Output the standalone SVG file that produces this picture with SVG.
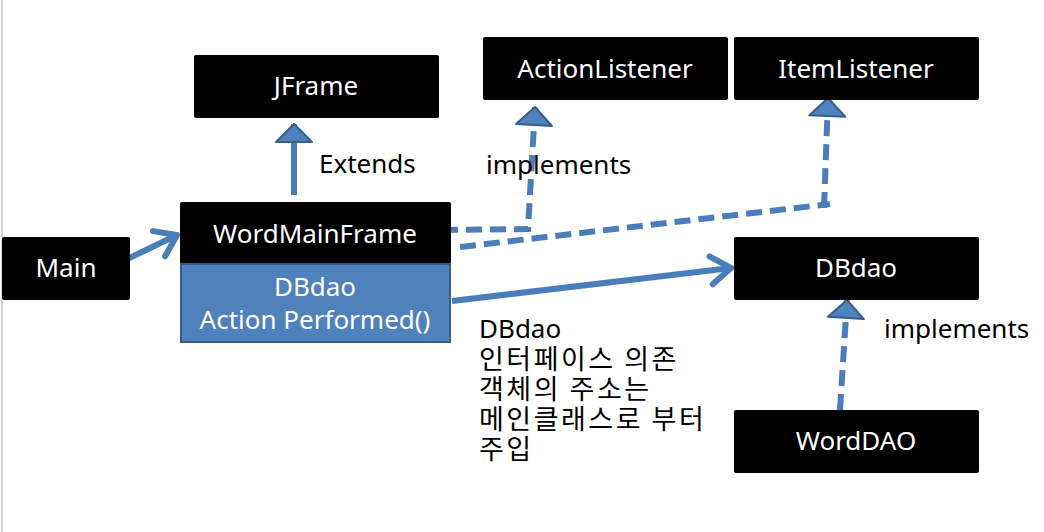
<svg xmlns="http://www.w3.org/2000/svg" width="1044" height="532" viewBox="0 0 1044 532">
<defs>
<style>
.box{fill:#000;}
.sub{fill:#4f81bd;stroke:#385d8a;stroke-width:2;}
.lbl{font-family:"Noto Sans","Noto Sans CJK KR",sans-serif;font-size:26px;fill:#fff;text-anchor:middle;}
.txt{font-family:"Noto Sans","Noto Sans CJK KR",sans-serif;font-size:26px;fill:#000;}
.kr{font-family:"Noto Sans","Noto Sans CJK KR",sans-serif;font-size:26px;fill:#000;}
.kr tspan.h{font-family:"Noto Sans CJK KR",sans-serif;font-size:27px;letter-spacing:2.5px;}
.ln{fill:none;stroke:#4a7ebb;stroke-width:6;}
.dash{stroke-dasharray:16 8;}
</style>
<marker id="tri" markerUnits="userSpaceOnUse" markerWidth="40" markerHeight="44" viewBox="-22 -22 26 44" refX="0" refY="0" orient="auto" overflow="visible">
<path d="M0,0 L-18,-18 L-18,18 z" fill="#4f81bd" stroke="#385d8a" stroke-width="2" stroke-linejoin="round"/>
</marker>
<marker id="open" markerUnits="userSpaceOnUse" markerWidth="40" markerHeight="44" viewBox="-30 -22 34 44" refX="0" refY="0" orient="auto" overflow="visible">
<path d="M-20,-14 L0,0 L-20,14" fill="none" stroke="#4a7ebb" stroke-width="6" stroke-linecap="round" stroke-linejoin="round"/>
</marker>
</defs>
<rect x="0" y="0" width="1044" height="532" fill="#fff"/>
<line x1="2" y1="0" x2="2" y2="532" stroke="#c8c8c8" stroke-width="1.5"/>

<g id="connectors">
<path class="ln" d="M115,265 L177,235" marker-end="url(#open)"/>
<path class="ln" d="M294,195 L294,124" marker-end="url(#tri)"/>
<path class="ln dash" d="M442,230 L528,229 L535,107" marker-end="url(#tri)"/>
<path class="ln dash" d="M460,247 L830,204"/>
<path class="ln dash" d="M824,208 L828,98" marker-end="url(#tri)"/>
<path class="ln" d="M452,301 L731,268" marker-end="url(#open)"/>
<path class="ln dash" d="M840,410 L847,300" marker-end="url(#tri)"/>
</g>

<g id="JFrame"><rect class="box" x="194" y="55" width="245" height="63" rx="2"/><text class="lbl" x="316" y="95">JFrame</text></g>
<g id="ActionListener"><rect class="box" x="483" y="37" width="245" height="63" rx="2"/><text class="lbl" x="605" y="78">ActionListener</text></g>
<g id="ItemListener"><rect class="box" x="734" y="37" width="245" height="63" rx="2"/><text class="lbl" x="856" y="78">ItemListener</text></g>
<g id="Main"><rect class="box" x="2" y="237" width="128" height="63" rx="2"/><text class="lbl" x="66" y="277">Main</text></g>
<g id="WordMainFrame"><rect class="box" x="180" y="202" width="271" height="62" rx="2"/><text class="lbl" x="315" y="243">WordMainFrame</text>
<rect class="sub" x="181" y="264" width="269" height="78"/><text class="lbl" x="315" y="296">DBdao</text><text class="lbl" x="315" y="329">Action Performed()</text></g>
<g id="DBdao"><rect class="box" x="734" y="237" width="245" height="63" rx="2"/><text class="lbl" x="856" y="277">DBdao</text></g>
<g id="WordDAO"><rect class="box" x="734" y="410" width="245" height="63" rx="2"/><text class="lbl" x="856" y="450">WordDAO</text></g>

<g id="labels">
<text class="txt" x="319" y="173">Extends</text>
<text class="txt" x="486" y="174">implements</text>
<text class="txt" x="884" y="338">implements</text>
<text class="kr" x="479" y="338">DBdao<tspan class="h" x="479" dy="31">인터페이스 의존</tspan><tspan class="h" x="479" dy="30">객체의 주소는</tspan><tspan class="h" x="479" dy="30">메인클래스로 부터</tspan><tspan class="h" x="479" dy="30">주입</tspan></text>
</g>
</svg>
